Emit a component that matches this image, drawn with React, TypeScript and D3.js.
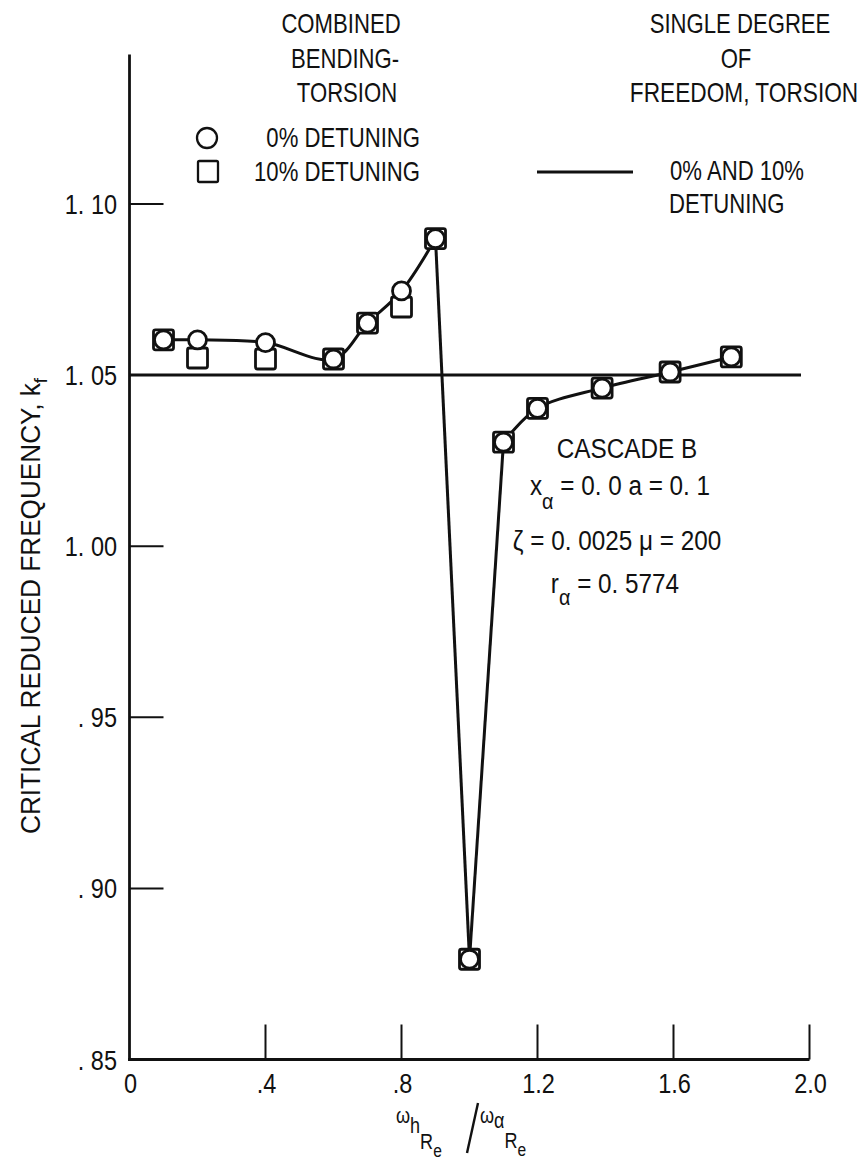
import React from "react";
import * as d3 from "d3";

// ---- data ----
const xValues = [0.1, 0.2, 0.4, 0.6, 0.7, 0.8, 0.9, 1.0, 1.1, 1.2, 1.39, 1.59, 1.77];
const detune0 = [1.0603, 1.0603, 1.0595, 1.0547, 1.0652, 1.0746, 1.0899, 0.8793, 1.0304, 1.0403, 1.0462, 1.0509, 1.0553];
const detune10 = [1.0603, 1.055, 1.0547, 1.0547, 1.0652, 1.0699, 1.0899, 0.8793, 1.0304, 1.0403, 1.0462, 1.0509, 1.0553];
const singleDofValue = 1.05;
const singleDofRange = [0, 1.975];
const xTicks = [0, 0.4, 0.8, 1.2, 1.6, 2.0];
const xTickLabels = ["0", ".4", ".8", "1.2", "1.6", "2.0"];
const yTicks = [0.85, 0.9, 0.95, 1.0, 1.05, 1.1];
const yTickLabels = [". 85", ". 90", ". 95", "1. 00", "1. 05", "1. 10"];
const yAxisMax = 1.1437;

const FONT = "'Liberation Sans', Arial, sans-serif";
const SX = 0.82;

type TProps = { x: number; y: number; anchor?: "start" | "middle" | "end"; sx?: number; size?: number; rotate?: number; children: React.ReactNode };
function T({ x, y, anchor = "start", sx = SX, size = 27, rotate = 0, children }: TProps) {
  return (
    <text
      transform={`translate(${x},${y}) rotate(${rotate}) scale(${sx},1)`}
      textAnchor={anchor}
      style={{ fontFamily: FONT, fontSize: size, fill: "#111" }}
    >
      {children}
    </text>
  );
}

export default function App() {
  const W = 863, H = 1164;
  const x = d3.scaleLinear().domain([0, 2.0]).range([129.5, 809.5]);
  const y = d3.scaleLinear().domain([0.85, 1.1]).range([1059.5, 204]);

  const pts = xValues.map((v, i) => [v, detune0[i]] as [number, number]);
  const peakIdx = detune0.indexOf(d3.max(detune0.slice(0, 8)) as number);
  const minIdx = detune0.indexOf(d3.min(detune0) as number);
  const smooth = d3.line<[number, number]>().x(d => x(d[0])).y(d => y(d[1])).curve(d3.curveCatmullRom.alpha(0.5));
  const straight = d3.line<[number, number]>().x(d => x(d[0])).y(d => y(d[1]));
  const segs = [
    smooth(pts.slice(0, peakIdx + 1)),
    straight(pts.slice(peakIdx, minIdx + 1)),
    straight(pts.slice(minIdx, minIdx + 2)),
    smooth(pts.slice(minIdx + 1)),
  ];

  const x0 = x(0), yBase = y(0.85);

  return (
    <svg width={W} height={H} style={{ position: "absolute", left: 0, top: 0, background: "#fff" }}>
      {/* axes */}
      <line x1={x0} y1={y(yAxisMax)} x2={x0} y2={yBase + 1.4} stroke="#111" strokeWidth={2.8} />
      <line x1={x0 - 1.4} y1={yBase} x2={x(2.0)} y2={yBase} stroke="#111" strokeWidth={2.8} />
      {yTicks.filter(t => t > 0.85).map(t => (
        <line key={"yt" + t} x1={x0} x2={x0 + 34} y1={y(t)} y2={y(t)} stroke="#111" strokeWidth={2} />
      ))}
      {xTicks.filter(t => t > 0).map(t => (
        <line key={"xt" + t} x1={x(t)} x2={x(t)} y1={yBase} y2={yBase - 35} stroke="#111" strokeWidth={2} />
      ))}
      {yTicks.map((t, i) => (
        <T key={"yl" + t} x={117} y={y(t) + 10} anchor="end" sx={0.87}>{yTickLabels[i]}</T>
      ))}
      {xTicks.map((t, i) => (
        <T key={"xl" + t} x={x(t) + 1} y={yBase + 33} anchor="middle" sx={0.87}>{xTickLabels[i]}</T>
      ))}

      {/* axis titles */}
      <T x={40} y={606} anchor="middle" rotate={-90} sx={0.97}>
        CRITICAL REDUCED FREQUENCY, k<tspan fontSize={19} dy={7}>f</tspan>
      </T>
      <T x={396} y={1123} size={22}>
        ω<tspan dy={10}>h</tspan><tspan dy={16}>R</tspan><tspan fontSize={19} dy={8}>e</tspan>
      </T>
      <line x1={467} y1={1153} x2={478} y2={1103} stroke="#111" strokeWidth={2.4} />
      <T x={480} y={1123} size={22}>
        ω<tspan dy={5}>α</tspan><tspan dy={20}>R</tspan><tspan fontSize={19} dy={8}>e</tspan>
      </T>

      {/* single degree of freedom reference line */}
      <line x1={x(singleDofRange[0])} x2={x(singleDofRange[1])} y1={y(singleDofValue)} y2={y(singleDofValue)} stroke="#111" strokeWidth={3} />

      {/* faired curve */}
      {segs.map((d, i) => (
        <path key={"seg" + i} d={d || ""} fill="none" stroke="#111" strokeWidth={3} strokeLinejoin="round" />
      ))}

      {/* markers */}
      {xValues.map((v, i) => (
        <rect key={"sq" + i} x={x(v) - 10} y={y(detune10[i]) - 10} width={20} height={20} rx={2}
          fill="#fff" stroke="#111" strokeWidth={2.8} />
      ))}
      {xValues.map((v, i) => (
        <circle key={"ci" + i} cx={x(v)} cy={y(detune0[i])} r={9} fill="#fff" stroke="#111" strokeWidth={2.8} />
      ))}

      {/* legend headings */}
      <T x={341} y={33} anchor="middle">COMBINED</T>
      <T x={345} y={68} anchor="middle">BENDING-</T>
      <T x={347} y={102} anchor="middle">TORSION</T>
      <T x={740} y={33} anchor="middle">SINGLE DEGREE</T>
      <T x={736} y={68} anchor="middle">OF</T>
      <T x={744} y={102} anchor="middle" sx={0.84}>FREEDOM, TORSION</T>

      <circle cx={207} cy={138} r={10} fill="#fff" stroke="#111" strokeWidth={2.3} />
      <T x={420} y={147} anchor="end">0% DETUNING</T>
      <rect x={198} y={161} width={20} height={21} rx={1.5} fill="#fff" stroke="#111" strokeWidth={2.3} />
      <T x={420} y={181} anchor="end">10% DETUNING</T>
      <line x1={537} x2={633} y1={172} y2={172} stroke="#111" strokeWidth={3} />
      <T x={670} y={180}>0% AND 10%</T>
      <T x={669} y={213}>DETUNING</T>

      {/* annotation */}
      <T x={627} y={458} anchor="middle" sx={0.9}>CASCADE  B</T>
      <T x={620} y={495} anchor="middle" sx={0.9}>x<tspan fontSize={22} dy={14}>α</tspan><tspan dy={-14}> = 0. 0  a = 0. 1</tspan></T>
      <T x={617} y={550} anchor="middle" sx={0.9}>ζ = 0. 0025  μ = 200</T>
      <T x={615} y={593} anchor="middle" sx={0.9}>r<tspan fontSize={22} dy={12}>α</tspan><tspan dy={-12}> = 0. 5774</tspan></T>
    </svg>
  );
}
